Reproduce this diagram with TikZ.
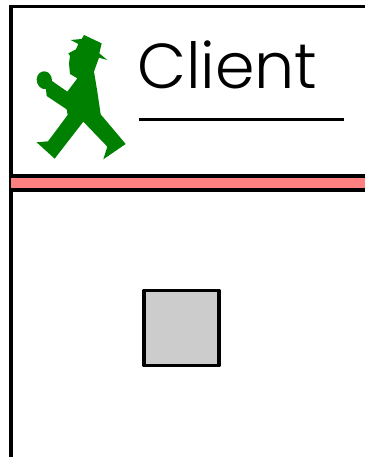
\documentclass[tikz,border=0pt]{standalone}
\usepackage{fontspec}
\setmainfont{Poppins Light}
\definecolor{walker}{HTML}{008000}
\definecolor{band}{HTML}{FF8080}
\definecolor{boxgray}{HTML}{CCCCCC}
\tikzset{
  heavy/.style={draw=black,line width=3.4pt},
  titletext/.style={inner sep=0pt,anchor=base west,font=\fontsize{63.5}{64}\selectfont},
}
\begin{document}
\begin{tikzpicture}[x=1pt,y=-1pt]
\useasboundingbox (0,0) rectangle (365,457);
\begin{scope}
\clip (0,0) rectangle (365,457);
\draw[heavy,line cap=butt] (11,457) -- (11,6.5) -- (365,6.5);
\fill[band] (11,176) rectangle (365,190);
\draw[heavy] (11,176) -- (365,176);
\draw[heavy] (11,190) -- (365,190);
\end{scope}
\draw[heavy,fill=boxgray,line join=round] (144,290.5) rectangle (219,365.5);
\begin{scope}[shift={(20,20)},x=0.3333pt,y=-0.3333pt]
\fill[walker] (192,45) -- (245,70) -- (238,100) -- (262,120) -- (237,113) -- (222,155) -- (232,215) -- (242,283) -- (317,372) -- (250,418) -- (262,380) -- (190,305) -- (104,416) -- (50,367) -- (84,364) -- (143,285) -- (140,268) -- (80,228) -- (78,208) .. controls (60,208) and (50,194) .. (50,178) .. controls (51,162) and (63,153) .. (74,154) .. controls (88,155) and (96,168) .. (96,183) -- (142,215) -- (172,175) -- (150,162) -- (147,130) -- (150,108) -- (145,100) -- (168,88) -- (175,72) -- (152,60) -- (185,57) -- cycle;
\end{scope}
\node[titletext] (title) at (137,88.5) {Client};
\coordinate (ulstart) at (139,119.5);
\coordinate (ulend) at (344,119.5);
\draw[heavy] (ulstart) -- (ulend);
\end{tikzpicture}
\end{document}
